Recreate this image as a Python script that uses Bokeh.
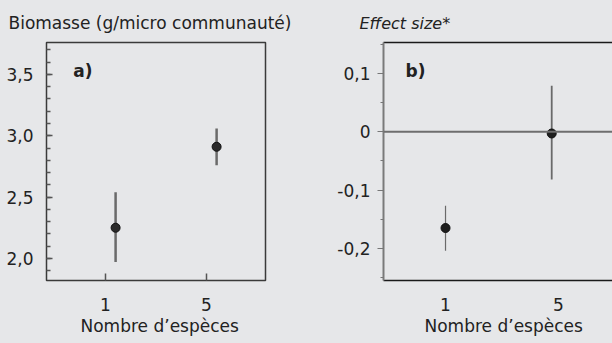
import numpy as np
from bokeh.plotting import figure
from bokeh.models import FixedTicker, LinearAxis, Range1d, Label, Span, Title
from bokeh.layouts import row
from bokeh.embed import file_html
from bokeh.resources import INLINE

# ---- data ----
species = ["1", "5"]
biomass = [2.25, 2.91]
biomass_low = [1.97, 2.76]
biomass_high = [2.54, 3.06]
effect = [-0.165, -0.003]
effect_low = [-0.204, -0.082]
effect_high = [-0.127, 0.079]

ticks_a = [2.0, 2.5, 3.0, 3.5]
tick_labels_a = ["2,0", "2,5", "3,0", "3,5"]
ticks_b = [-0.2, -0.1, 0.0, 0.1]
tick_labels_b = ["-0,2", "-0,1", "0", "0,1"]
xlabel = "Nombre d’espèces"

# ---- style / layout ----
BG = "#e6e7e9"
FONT = "DejaVu Sans"
TXT = "#222222"
FS = "17px"
TOP = 42
FRAME_H = 238

cat_pos = list(range(len(species)))
shift_a = [0.1, 0.1]
shift_b = [0.0, -0.06]
xa = [c + s for c, s in zip(cat_pos, shift_a)]
xb = [c + s for c, s in zip(cat_pos, shift_b)]


def style_axis(ax):
    ax.major_label_text_font = FONT
    ax.major_label_text_font_size = FS
    ax.major_label_text_color = TXT


def style_common(p):
    p.grid.visible = False
    p.background_fill_color = BG
    p.border_fill_color = BG
    p.title.text_font = FONT
    p.title.text_font_size = FS
    p.title.text_font_style = "normal"
    p.title.text_color = TXT
    p.title.align = "left"
    p.title.standoff = 20


def top_line(p, color):
    p.add_layout(LinearAxis(ticker=FixedTicker(ticks=[]), major_tick_in=0, major_tick_out=0,
                            minor_tick_in=0, minor_tick_out=0, major_label_standoff=0,
                            axis_line_color=color, axis_line_width=1.5), "above")


def bottom_label(p, offset):
    p.add_layout(Title(text=xlabel, align="left", offset=offset, standoff=1,
                       text_font=FONT, text_font_size=FS, text_font_style="normal",
                       text_color=TXT), "below")


# ---- panel a ----
pa = figure(frame_width=219, frame_height=FRAME_H,
            x_range=Range1d(-0.584, 1.584), y_range=Range1d(1.82, 3.76),
            output_backend="svg", toolbar_location=None,
            min_border_left=46, min_border_right=35, min_border_top=TOP, min_border_bottom=2,
            title="Biomasse (g/micro communauté)")
style_common(pa)
pa.title.offset = -38
pa.outline_line_color = "#3a3a3a"
pa.outline_line_width = 1.5
top_line(pa, None)

xa_ax = pa.below[0]
ya_ax = pa.left[0]
style_axis(xa_ax)
style_axis(ya_ax)
xa_ax.ticker = FixedTicker(ticks=cat_pos)
xa_ax.major_label_overrides = {i: s for i, s in zip(cat_pos, species)}
xa_ax.major_tick_in = 7
xa_ax.major_tick_out = 0
xa_ax.minor_tick_line_color = None
xa_ax.axis_line_color = "#3a3a3a"
xa_ax.major_tick_line_color = "#555555"
xa_ax.major_tick_line_width = 1.5
xa_ax.major_label_standoff = 17
bottom_label(pa, 34)

ya_ax.ticker = FixedTicker(ticks=ticks_a, minor_ticks=list(np.round(np.arange(1.9, 3.75, 0.1), 2)))
ya_ax.major_label_overrides = {t: s for t, s in zip(ticks_a, tick_labels_a)}
ya_ax.major_tick_in = 6
ya_ax.major_tick_out = 0
ya_ax.minor_tick_in = 4
ya_ax.minor_tick_out = 0
ya_ax.major_tick_line_color = "#555555"
ya_ax.minor_tick_line_color = "#555555"
ya_ax.major_tick_line_width = 1.5
ya_ax.minor_tick_line_width = 1.5
ya_ax.axis_line_color = "#3a3a3a"
ya_ax.major_label_standoff = 13

pa.segment(x0=xa, y0=biomass_low, x1=xa, y1=biomass_high, line_color="#6a6a6a", line_width=2.5)
pa.scatter(xa, biomass, size=9, fill_color="#2b2b2b", line_color="#111111", line_width=1)
pa.add_layout(Label(x=-0.32, y=3.53, text="a)", text_font=FONT, text_font_size="17px",
                    text_font_style="bold", text_color=TXT, text_baseline="middle"))

# ---- panel b ----
pb = figure(frame_width=229, frame_height=FRAME_H,
            x_range=Range1d(-0.549, 1.478), y_range=Range1d(-0.255, 0.153),
            output_backend="svg", toolbar_location=None,
            min_border_left=83, min_border_right=0, min_border_top=TOP, min_border_bottom=2,
            title="Effect size*")
style_common(pb)
pb.title.offset = -24
pb.title.text_font_style = "italic"
pb.title.text_font_size = "16px"
pb.outline_line_color = None
top_line(pb, "#1a1a1a")

xb_ax = pb.below[0]
yb_ax = pb.left[0]
style_axis(xb_ax)
style_axis(yb_ax)

xb_ax.ticker = FixedTicker(ticks=cat_pos)
xb_ax.major_label_overrides = {i: s for i, s in zip(cat_pos, species)}
xb_ax.major_tick_in = 0
xb_ax.major_tick_out = 0
xb_ax.minor_tick_line_color = None
xb_ax.axis_line_color = "#1a1a1a"
xb_ax.axis_line_width = 1.5
xb_ax.major_label_standoff = 17
bottom_label(pb, 41)

yb_ax.ticker = FixedTicker(ticks=ticks_b, minor_ticks=[-0.25, -0.15, -0.05, 0.05, 0.15])
yb_ax.major_label_overrides = {t: s for t, s in zip(ticks_b, tick_labels_b)}
yb_ax.major_tick_in = 0
yb_ax.major_tick_out = 6
yb_ax.minor_tick_in = 0
yb_ax.minor_tick_out = 3
yb_ax.major_tick_line_color = "#777777"
yb_ax.minor_tick_line_color = "#777777"
yb_ax.axis_line_color = "#7a7a7a"
yb_ax.axis_line_width = 2
yb_ax.major_label_standoff = 7

pb.add_layout(Span(location=0, dimension="width", line_color="#6e6e6e", line_width=2))
pb.segment(x0=xb, y0=effect_low, x1=xb, y1=effect_high, line_color="#6a6a6a", line_width=[1.2, 1.8])
pb.scatter(xb, effect, size=9, fill_color="#1e1e1e", line_color="#111111", line_width=1)
pb.add_layout(Label(x=-0.354, y=0.105, text="b)", text_font=FONT, text_font_size="17px",
                    text_font_style="bold", text_color=TXT, text_baseline="middle"))

layout = row(pa, pb, spacing=0)
layout.styles = {"background-color": BG}

html = file_html(layout, INLINE)
html = html.replace("</head>", "<style>html,body{background-color:%s;overflow:hidden}</style></head>" % BG, 1)
open("out.html", "w").write(html)
